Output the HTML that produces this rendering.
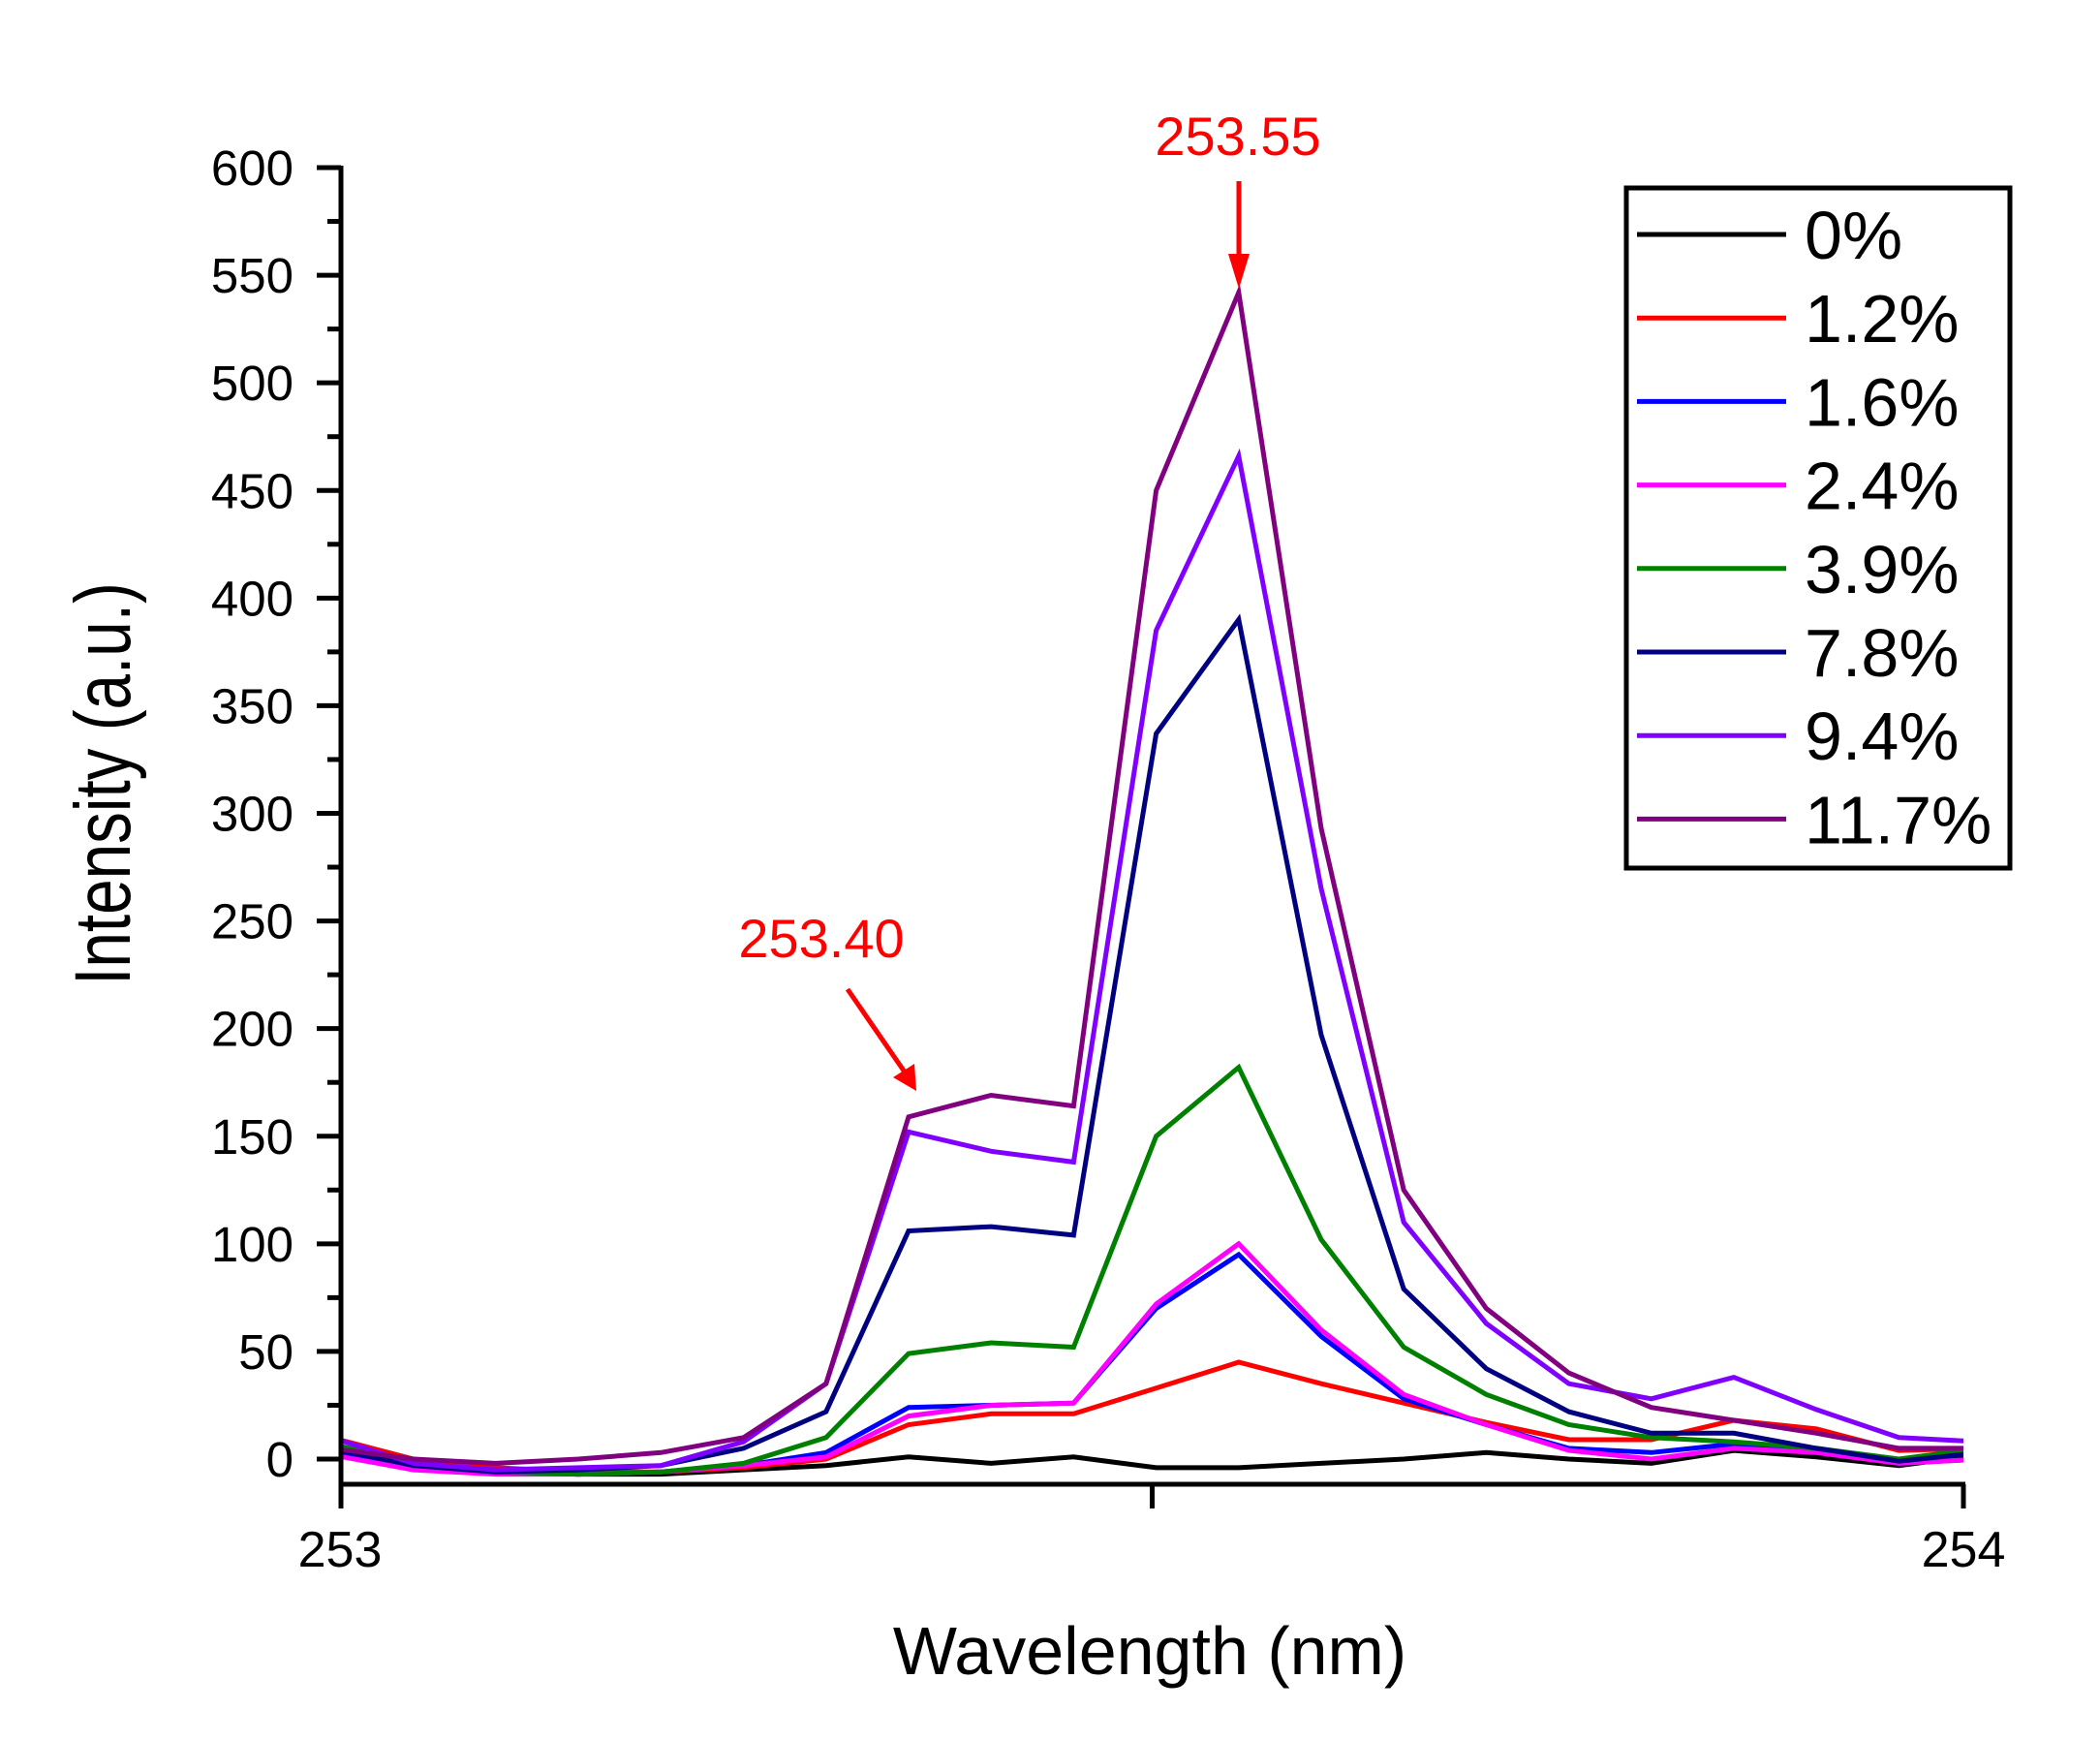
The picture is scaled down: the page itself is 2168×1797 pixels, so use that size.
<!DOCTYPE html>
<html><head><meta charset="utf-8"><style>
html,body{margin:0;padding:0;background:#fff}
svg{display:block}
text{font-family:"Liberation Sans",Arial,sans-serif}
</style></head><body>
<svg id="c" width="2168" height="1797" viewBox="0 0 2168 1797" xmlns="http://www.w3.org/2000/svg">
<defs><clipPath id="cp"><rect x="352" y="100" width="1675" height="1432"/></clipPath></defs>
<rect width="2168" height="1797" fill="#fff"/>
<g id="series" fill="none" stroke-width="5" stroke-linejoin="miter" clip-path="url(#cp)"></g>
<g id="axes" stroke="#000" stroke-width="5"></g>
<g font-size="51" text-anchor="end" id="ylab"></g>
<text x="351" y="1617" font-size="52" text-anchor="middle">253</text>
<text x="2027" y="1617" font-size="52" text-anchor="middle">254</text>
<text x="1187" y="1728" font-size="70" text-anchor="middle">Wavelength (nm)</text>
<text transform="translate(134,809) rotate(-90) scale(0.8,1)" font-size="82" text-anchor="middle">Intensity (a.u.)</text>
<text x="1278" y="160" font-size="56" fill="#f00" text-anchor="middle">253.55</text>
<line x1="1279" y1="187" x2="1279" y2="268" stroke="#f00" stroke-width="5"/>
<polygon points="1268,262 1290,262 1279,298" fill="#f00"/>
<text x="848" y="988" font-size="56" fill="#f00" text-anchor="middle">253.40</text>
<line x1="875" y1="1021" x2="935" y2="1108" stroke="#f00" stroke-width="5"/>
<polygon points="922,1112 944,1098 946,1126" fill="#f00"/>
<rect x="1679" y="194" width="396" height="702" fill="#fff" stroke="#000" stroke-width="5"/>
<g id="leg"></g>
</svg>
<script>
var X0=352,X1=2027,Y0=1506,PY=(1506-173)/600;
function px(i){return 341.6+85.2*i}
function py(v){return Y0-v*PY}
var S=[
["0%","#000",[3,-4,-6,-7,-7,-5,-3,1,-2,1,-4,-4,-2,0,3,0,-2,4,1,-3,2]],
["1.2%","#f00",[10,0,-4,-6,-6,-4,0,16,21,21,33,45,35,26,17,9,9,18,14,4,5]],
["1.6%","#00f",[4,-3,-6,-7,-6,-3,3,24,25,26,70,95,57,28,16,5,3,7,4,-2,0]],
["2.4%","#f0f",[2,-5,-7,-7,-6,-3,1,20,25,26,72,100,60,30,16,4,0,5,3,-2,0]],
["3.9%","#008000",[7,-2,-6,-7,-6,-2,10,49,54,52,150,182,102,52,30,16,10,8,5,0,5]],
["7.8%","#000080",[5,-3,-6,-5,-3,5,22,106,108,104,337,390,197,79,42,22,12,12,5,-1,3]],
["9.4%","#8000ff",[10,-2,-5,-4,-3,8,35,152,143,138,385,466,265,110,63,35,28,38,23,10,8]],
["11.7%","#800080",[5,0,-2,0,3,10,35,159,169,164,450,542,293,125,70,40,24,18,12,5,5]]];
var NS="http://www.w3.org/2000/svg";
function el(t,a,p,txt){var e=document.createElementNS(NS,t);for(var k in a)e.setAttribute(k,a[k]);if(txt)e.textContent=txt;p.appendChild(e);return e}
var g=document.getElementById("series");
S.forEach(function(s){el("polyline",{points:s[2].map(function(v,i){return px(i).toFixed(1)+","+py(v).toFixed(1)}).join(" "),stroke:s[1]},g)});
var ax=document.getElementById("axes");
el("line",{x1:X0,y1:171,x2:X0,y2:1557},ax);
el("line",{x1:X0-2,y1:1532,x2:X1+2,y2:1532},ax);
for(var v=0;v<=600;v+=25){var y=py(v);el("line",{x1:v%50==0?X0-25:X0-14,y1:y,x2:X0,y2:y},ax)}
[X0,(X0+X1)/2,X1].forEach(function(x){el("line",{x1:x,y1:1532,x2:x,y2:1557},ax)});
var yl=document.getElementById("ylab");
for(var v=0;v<=600;v+=50)el("text",{x:303,y:py(v)+18},yl,""+v);
var lg=document.getElementById("leg");
S.forEach(function(s,i){var y=242+i*86.2;el("line",{x1:1690,y1:y,x2:1844,y2:y,stroke:s[1],"stroke-width":5},lg);el("text",{x:1863,y:y+25,"font-size":70},lg,s[0])});
</script>
</body></html>
